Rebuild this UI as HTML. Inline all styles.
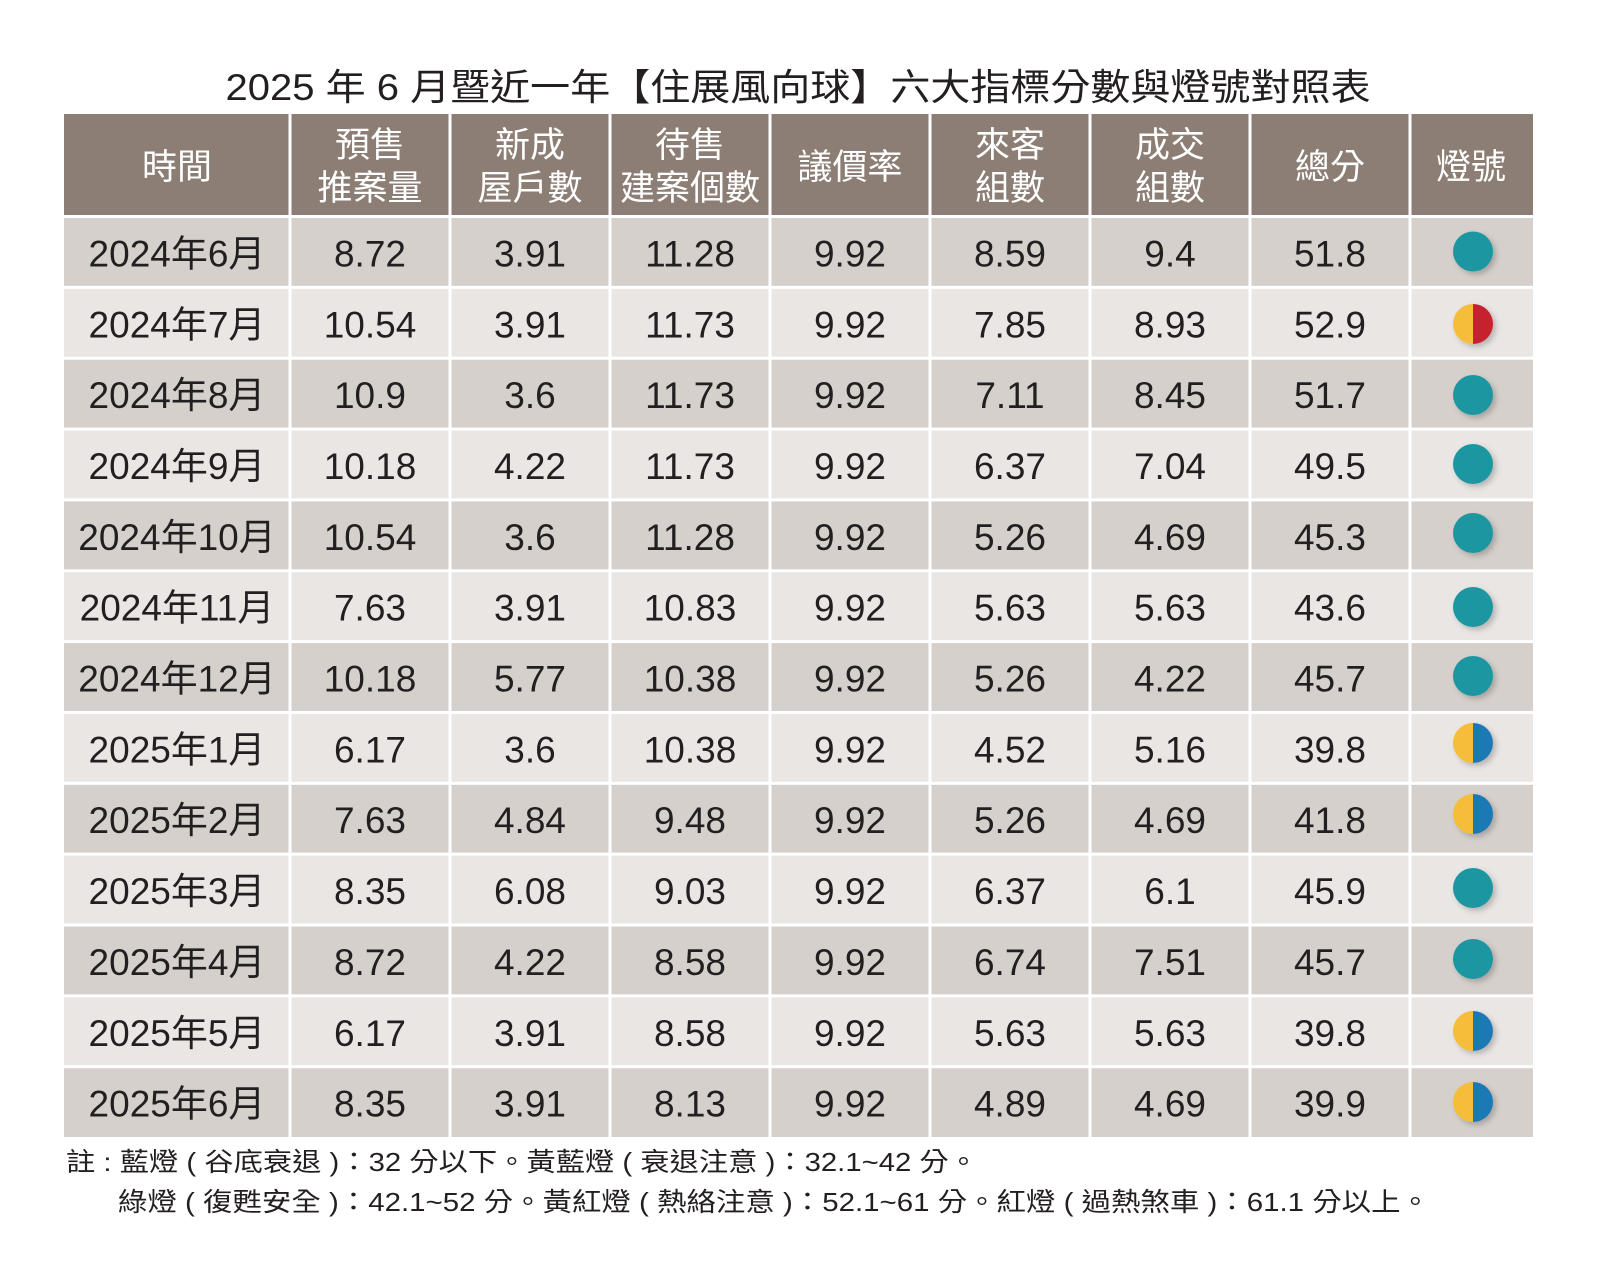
<!DOCTYPE html>
<html>
<head>
<meta charset="utf-8">
<style>
html,body{margin:0;padding:0;background:#fff;}
svg{display:block;}
.t{font-family:"Liberation Sans","Noto Sans CJK TC",sans-serif;fill:#231f20;}
.h{font-family:"Liberation Sans","Noto Sans CJK TC",sans-serif;fill:#ffffff;font-size:35px;text-anchor:middle;}
.d{font-family:"Liberation Sans","Noto Sans CJK TC",sans-serif;fill:#231f20;font-size:37px;text-anchor:middle;}
</style>
</head>
<body>
<svg width="1600" height="1266" viewBox="0 0 1600 1266" xmlns="http://www.w3.org/2000/svg">
<defs>
<filter id="sh" x="-50%" y="-50%" width="200%" height="200%">
<feDropShadow dx="3" dy="3" stdDeviation="3" flood-color="#000" flood-opacity="0.22"/>
</filter>
</defs>
<rect width="1600" height="1266" fill="#fff"/>

<!-- Title -->
<text class="t" x="798" y="100" text-anchor="middle" font-size="37" textLength="1145" lengthAdjust="spacingAndGlyphs">2025 年 6 月暨近一年【住展風向球】六大指標分數與燈號對照表</text>

<!-- Header background -->
<rect x="64" y="114" width="1469" height="101" fill="#8c7e74"/>

<!-- Row backgrounds -->
<rect x="64" y="218" width="1469" height="67.85" fill="#d6d0cc"/>
<rect x="64" y="288.85" width="1469" height="67.85" fill="#e9e6e4"/>
<rect x="64" y="359.7" width="1469" height="67.85" fill="#d6d0cc"/>
<rect x="64" y="430.55" width="1469" height="67.85" fill="#e9e6e4"/>
<rect x="64" y="501.4" width="1469" height="67.85" fill="#d6d0cc"/>
<rect x="64" y="572.25" width="1469" height="67.85" fill="#e9e6e4"/>
<rect x="64" y="643.1" width="1469" height="67.85" fill="#d6d0cc"/>
<rect x="64" y="713.95" width="1469" height="67.85" fill="#e9e6e4"/>
<rect x="64" y="784.8" width="1469" height="67.85" fill="#d6d0cc"/>
<rect x="64" y="855.65" width="1469" height="67.85" fill="#e9e6e4"/>
<rect x="64" y="926.5" width="1469" height="67.85" fill="#d6d0cc"/>
<rect x="64" y="997.35" width="1469" height="67.85" fill="#e9e6e4"/>
<rect x="64" y="1068.2" width="1469" height="68.8" fill="#d6d0cc"/>

<!-- Vertical white separators -->
<g fill="#ffffff">
<rect x="288.5" y="114" width="3" height="1023"/>
<rect x="448.5" y="114" width="3" height="1023"/>
<rect x="608.5" y="114" width="3" height="1023"/>
<rect x="768.5" y="114" width="3" height="1023"/>
<rect x="928.5" y="114" width="3" height="1023"/>
<rect x="1088.5" y="114" width="3" height="1023"/>
<rect x="1248.5" y="114" width="3" height="1023"/>
<rect x="1408.5" y="114" width="3" height="1023"/>
</g>

<!-- Header text -->
<text class="h" x="177" y="179">時間</text>
<text class="h" x="370" y="157">預售</text>
<text class="h" x="370" y="200">推案量</text>
<text class="h" x="530" y="157">新成</text>
<text class="h" x="530" y="200">屋戶數</text>
<text class="h" x="690" y="157">待售</text>
<text class="h" x="690" y="200">建案個數</text>
<text class="h" x="850" y="179">議價率</text>
<text class="h" x="1010" y="157">來客</text>
<text class="h" x="1010" y="200">組數</text>
<text class="h" x="1170" y="157">成交</text>
<text class="h" x="1170" y="200">組數</text>
<text class="h" x="1330" y="179">總分</text>
<text class="h" x="1471" y="179">燈號</text>

<!-- Row 1 -->
<text class="d" x="177" y="266.4">2024年6月</text>
<text class="d" x="370" y="266.4">8.72</text>
<text class="d" x="530" y="266.4">3.91</text>
<text class="d" x="690" y="266.4">11.28</text>
<text class="d" x="850" y="266.4">9.92</text>
<text class="d" x="1010" y="266.4">8.59</text>
<text class="d" x="1170" y="266.4">9.4</text>
<text class="d" x="1330" y="266.4">51.8</text>
<!-- Row 2 -->
<text class="d" x="177" y="337.3">2024年7月</text>
<text class="d" x="370" y="337.3">10.54</text>
<text class="d" x="530" y="337.3">3.91</text>
<text class="d" x="690" y="337.3">11.73</text>
<text class="d" x="850" y="337.3">9.92</text>
<text class="d" x="1010" y="337.3">7.85</text>
<text class="d" x="1170" y="337.3">8.93</text>
<text class="d" x="1330" y="337.3">52.9</text>
<!-- Row 3 -->
<text class="d" x="177" y="408.1">2024年8月</text>
<text class="d" x="370" y="408.1">10.9</text>
<text class="d" x="530" y="408.1">3.6</text>
<text class="d" x="690" y="408.1">11.73</text>
<text class="d" x="850" y="408.1">9.92</text>
<text class="d" x="1010" y="408.1">7.11</text>
<text class="d" x="1170" y="408.1">8.45</text>
<text class="d" x="1330" y="408.1">51.7</text>
<!-- Row 4 -->
<text class="d" x="177" y="479.0">2024年9月</text>
<text class="d" x="370" y="479.0">10.18</text>
<text class="d" x="530" y="479.0">4.22</text>
<text class="d" x="690" y="479.0">11.73</text>
<text class="d" x="850" y="479.0">9.92</text>
<text class="d" x="1010" y="479.0">6.37</text>
<text class="d" x="1170" y="479.0">7.04</text>
<text class="d" x="1330" y="479.0">49.5</text>
<!-- Row 5 -->
<text class="d" x="177" y="549.8">2024年10月</text>
<text class="d" x="370" y="549.8">10.54</text>
<text class="d" x="530" y="549.8">3.6</text>
<text class="d" x="690" y="549.8">11.28</text>
<text class="d" x="850" y="549.8">9.92</text>
<text class="d" x="1010" y="549.8">5.26</text>
<text class="d" x="1170" y="549.8">4.69</text>
<text class="d" x="1330" y="549.8">45.3</text>
<!-- Row 6 -->
<text class="d" x="177" y="620.7">2024年11月</text>
<text class="d" x="370" y="620.7">7.63</text>
<text class="d" x="530" y="620.7">3.91</text>
<text class="d" x="690" y="620.7">10.83</text>
<text class="d" x="850" y="620.7">9.92</text>
<text class="d" x="1010" y="620.7">5.63</text>
<text class="d" x="1170" y="620.7">5.63</text>
<text class="d" x="1330" y="620.7">43.6</text>
<!-- Row 7 -->
<text class="d" x="177" y="691.5">2024年12月</text>
<text class="d" x="370" y="691.5">10.18</text>
<text class="d" x="530" y="691.5">5.77</text>
<text class="d" x="690" y="691.5">10.38</text>
<text class="d" x="850" y="691.5">9.92</text>
<text class="d" x="1010" y="691.5">5.26</text>
<text class="d" x="1170" y="691.5">4.22</text>
<text class="d" x="1330" y="691.5">45.7</text>
<!-- Row 8 -->
<text class="d" x="177" y="762.4">2025年1月</text>
<text class="d" x="370" y="762.4">6.17</text>
<text class="d" x="530" y="762.4">3.6</text>
<text class="d" x="690" y="762.4">10.38</text>
<text class="d" x="850" y="762.4">9.92</text>
<text class="d" x="1010" y="762.4">4.52</text>
<text class="d" x="1170" y="762.4">5.16</text>
<text class="d" x="1330" y="762.4">39.8</text>
<!-- Row 9 -->
<text class="d" x="177" y="833.2">2025年2月</text>
<text class="d" x="370" y="833.2">7.63</text>
<text class="d" x="530" y="833.2">4.84</text>
<text class="d" x="690" y="833.2">9.48</text>
<text class="d" x="850" y="833.2">9.92</text>
<text class="d" x="1010" y="833.2">5.26</text>
<text class="d" x="1170" y="833.2">4.69</text>
<text class="d" x="1330" y="833.2">41.8</text>
<!-- Row 10 -->
<text class="d" x="177" y="904.1">2025年3月</text>
<text class="d" x="370" y="904.1">8.35</text>
<text class="d" x="530" y="904.1">6.08</text>
<text class="d" x="690" y="904.1">9.03</text>
<text class="d" x="850" y="904.1">9.92</text>
<text class="d" x="1010" y="904.1">6.37</text>
<text class="d" x="1170" y="904.1">6.1</text>
<text class="d" x="1330" y="904.1">45.9</text>
<!-- Row 11 -->
<text class="d" x="177" y="974.9">2025年4月</text>
<text class="d" x="370" y="974.9">8.72</text>
<text class="d" x="530" y="974.9">4.22</text>
<text class="d" x="690" y="974.9">8.58</text>
<text class="d" x="850" y="974.9">9.92</text>
<text class="d" x="1010" y="974.9">6.74</text>
<text class="d" x="1170" y="974.9">7.51</text>
<text class="d" x="1330" y="974.9">45.7</text>
<!-- Row 12 -->
<text class="d" x="177" y="1045.8">2025年5月</text>
<text class="d" x="370" y="1045.8">6.17</text>
<text class="d" x="530" y="1045.8">3.91</text>
<text class="d" x="690" y="1045.8">8.58</text>
<text class="d" x="850" y="1045.8">9.92</text>
<text class="d" x="1010" y="1045.8">5.63</text>
<text class="d" x="1170" y="1045.8">5.63</text>
<text class="d" x="1330" y="1045.8">39.8</text>
<!-- Row 13 -->
<text class="d" x="177" y="1116.6">2025年6月</text>
<text class="d" x="370" y="1116.6">8.35</text>
<text class="d" x="530" y="1116.6">3.91</text>
<text class="d" x="690" y="1116.6">8.13</text>
<text class="d" x="850" y="1116.6">9.92</text>
<text class="d" x="1010" y="1116.6">4.89</text>
<text class="d" x="1170" y="1116.6">4.69</text>
<text class="d" x="1330" y="1116.6">39.9</text>

<!-- Lights -->
<g filter="url(#sh)">
<circle cx="1473" cy="251.5" r="20" fill="#1f97a1"/>
<g transform="translate(1473,324)">
<path d="M0,-20 A20,20 0 0 0 0,20 Z" fill="#f6bd3b"/>
<path d="M0,-20 A20,20 0 0 1 0,20 Z" fill="#c5232f"/>
</g>
<circle cx="1473" cy="395" r="20" fill="#1f97a1"/>
<circle cx="1473" cy="464" r="20" fill="#1f97a1"/>
<circle cx="1473" cy="533" r="20" fill="#1f97a1"/>
<circle cx="1473" cy="607" r="20" fill="#1f97a1"/>
<circle cx="1473" cy="676" r="20" fill="#1f97a1"/>
<g transform="translate(1473,743)">
<path d="M0,-20 A20,20 0 0 0 0,20 Z" fill="#f6bd3b"/>
<path d="M0,-20 A20,20 0 0 1 0,20 Z" fill="#1b79b4"/>
</g>
<g transform="translate(1473,814)">
<path d="M0,-20 A20,20 0 0 0 0,20 Z" fill="#f6bd3b"/>
<path d="M0,-20 A20,20 0 0 1 0,20 Z" fill="#1b79b4"/>
</g>
<circle cx="1473" cy="888" r="20" fill="#1f97a1"/>
<circle cx="1473" cy="959" r="20" fill="#1f97a1"/>
<g transform="translate(1473,1031)">
<path d="M0,-20 A20,20 0 0 0 0,20 Z" fill="#f6bd3b"/>
<path d="M0,-20 A20,20 0 0 1 0,20 Z" fill="#1b79b4"/>
</g>
<g transform="translate(1473,1102)">
<path d="M0,-20 A20,20 0 0 0 0,20 Z" fill="#f6bd3b"/>
<path d="M0,-20 A20,20 0 0 1 0,20 Z" fill="#1b79b4"/>
</g>
</g>

<!-- Notes -->
<text class="t" x="66" y="1171" font-size="26" textLength="912" lengthAdjust="spacingAndGlyphs">註 : 藍燈 ( 谷底衰退 )：32 分以下。黃藍燈 ( 衰退注意 )：32.1~42 分。</text>
<text class="t" x="118" y="1211" font-size="26" textLength="1312" lengthAdjust="spacingAndGlyphs">綠燈 ( 復甦安全 )：42.1~52 分。黃紅燈 ( 熱絡注意 )：52.1~61 分。紅燈 ( 過熱煞車 )：61.1 分以上。</text>
</svg>
</body>
</html>
